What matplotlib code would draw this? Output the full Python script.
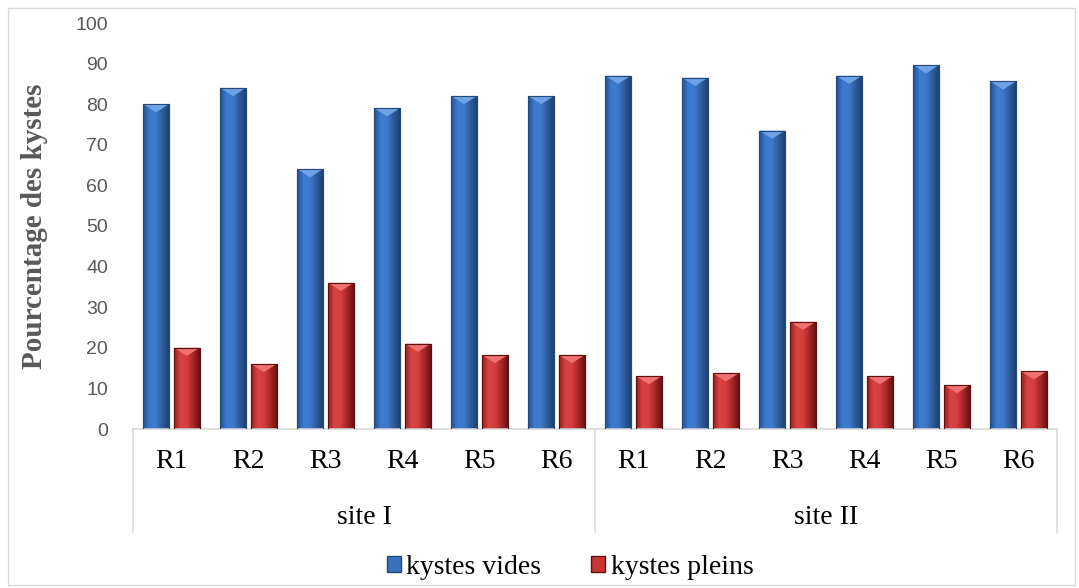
import matplotlib
matplotlib.use("Agg")
import matplotlib.pyplot as plt
import numpy as np
from matplotlib.patches import Rectangle, Polygon, Patch
from matplotlib.colors import LinearSegmentedColormap

# ---- data ----
sites = ["site I", "site II"]
reps = ["R1", "R2", "R3", "R4", "R5", "R6"]
vides = [80, 84, 64, 79, 82, 82, 87, 86.5, 73.5, 87, 89.6, 85.6]
pleins = [20, 16, 36, 21, 18.2, 18.2, 13, 13.7, 26.4, 13, 10.8, 14.2]
series_names = ["kystes vides", "kystes pleins"]
yticks = [0, 10, 20, 30, 40, 50, 60, 70, 80, 90, 100]
ylabel = "Pourcentage des kystes"

W, H = 1079, 588
fig = plt.figure(figsize=(W / 100, H / 100), dpi=100)
fig.patches.append(Rectangle((8 / W, 3 / H), 1067 / W, 577 / H, transform=fig.transFigure,
                             fill=False, edgecolor="#D9D9D9", linewidth=1.0))

ax_l, ax_r, ax_t, ax_b = 133, 1057, 23, 429
ax = fig.add_axes([ax_l / W, (H - ax_b) / H, (ax_r - ax_l) / W, (ax_b - ax_t) / H])

n = len(vides)
x = np.arange(n)
bw = 0.33
off = 0.2

blue_cmap = LinearSegmentedColormap.from_list("b", ["#24508F", "#3C7BD0", "#3E7ACB", "#2C5C9E", "#1F426F"])
red_cmap = LinearSegmentedColormap.from_list("r", ["#9A2020", "#D84444", "#D43D3D", "#A82626", "#6A1212"])
grad = np.linspace(0, 1, 64).reshape(1, -1)


def fancy_bar(xc, h, cmap, base, light, edge):
    bars = ax.bar([xc], [h], width=bw, color=base, edgecolor=edge, linewidth=0.8, zorder=2)
    b = bars[0]
    im = ax.imshow(grad, cmap=cmap, aspect="auto", extent=[xc - bw / 2, xc + bw / 2, 0, h],
                   zorder=2.5, interpolation="bilinear")
    im.set_clip_path(b)
    tri_h = 2.0
    ax.add_patch(Polygon([[xc - bw / 2, h], [xc + bw / 2, h], [xc, h - tri_h]],
                         closed=True, facecolor=light, edgecolor="none", zorder=3))
    ax.add_patch(Rectangle((xc - bw / 2, 0), bw, h, fill=False, edgecolor=edge, linewidth=0.8, zorder=3.5))


for i in range(n):
    fancy_bar(x[i] - off, vides[i], blue_cmap, "#3A72BE", "#6FA3E6", "#27497A")
    fancy_bar(x[i] + off, pleins[i], red_cmap, "#C83535", "#EE7070", "#5E1010")

ax.set_xlim(-0.5, n - 0.5)
ax.set_ylim(0, 100)
ax.set_yticks(yticks)
ax.set_yticklabels([str(t) for t in yticks], fontsize=14, color="#595959", family="Liberation Sans")
ax.tick_params(axis="y", length=0, pad=18)
ax.set_xticks([])
for s in ["left", "right", "top"]:
    ax.spines[s].set_visible(False)
ax.spines["bottom"].set_color("#D9D9D9")
ax.spines["bottom"].set_linewidth(1.2)
ax.set_ylabel(ylabel, fontsize=21, fontweight="bold", color="#595959", family="Liberation Serif")
ax.yaxis.set_label_coords((48 - ax_l) / (ax_r - ax_l), 0.5)

tr = ax.get_xaxis_transform()
ph = ax_b - ax_t
for i in range(n):
    ax.text(x[i], -(462 - ax_b) / ph, reps[i % len(reps)], transform=tr, ha="center", va="center",
            fontsize=20, family="Liberation Serif", color="black")
for g, s in enumerate(sites):
    xc = g * len(reps) + (len(reps) - 1) / 2
    ax.text(xc, -(517 - ax_b) / ph, s, transform=tr, ha="center", va="center",
            fontsize=20, family="Liberation Serif", color="black")
for g in range(len(sites) + 1):
    xs = g * len(reps) - 0.5
    ax.plot([xs, xs], [0, -(532 - ax_b) / ph], transform=tr, color="#D9D9D9", linewidth=1.2,
            clip_on=False, zorder=1)

handles = [Patch(facecolor="#3A72BE", edgecolor="#27497A"), Patch(facecolor="#C83535", edgecolor="#5E1010")]
leg = fig.legend(handles, series_names, loc="center", bbox_to_anchor=(570 / W, (H - 567) / H), ncol=2,
                 frameon=False, prop={"family": "Liberation Serif", "size": 20},
                 handlelength=0.5, handleheight=0.5, handletextpad=0.2, columnspacing=1.8,
                 borderpad=0.1)

fig.savefig("out.png", dpi=100)
